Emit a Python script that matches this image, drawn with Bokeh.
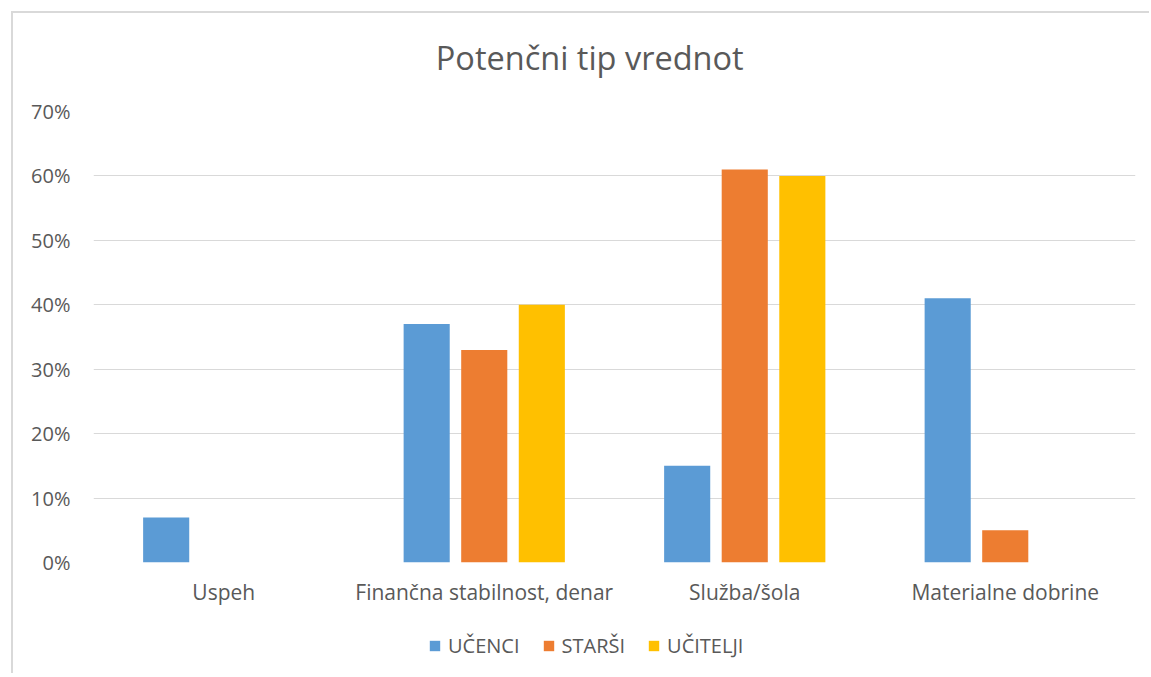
from bokeh.plotting import figure
from bokeh.layouts import column
from bokeh.models import (ColumnDataSource, FactorRange, Range1d, FixedTicker,
                          NumeralTickFormatter, Legend, LegendItem, Label)
from bokeh.transform import dodge
from bokeh.embed import file_html
from bokeh.resources import INLINE

title_text = "Potenčni tip vrednot"
categories = ["Uspeh", "Finančna stabilnost, denar", "Služba/šola", "Materialne dobrine"]
series_names = ["UČENCI", "STARŠI", "UČITELJI"]
ucenci = [7, 37, 15, 41]
starsi = [0, 33, 61, 5]
ucitelji = [0, 40, 60, 0]
y_ticks = [0, 10, 20, 30, 40, 50, 60, 70]

colors = ["#5B9BD5", "#ED7D31", "#FFC000"]
FONT = "Open Sans"
TXT = "#595959"
W = 1136


def blank(fig):
    fig.outline_line_color = None
    fig.axis.visible = False
    fig.grid.visible = False
    fig.background_fill_color = "white"
    fig.border_fill_color = "white"


# header strip holding the chart title
hd = figure(width=W, height=80, output_backend="svg", toolbar_location=None,
            min_border=0, min_border_left=0, min_border_right=0,
            min_border_top=0, min_border_bottom=0,
            x_range=Range1d(0, W), y_range=Range1d(0, 80))
blank(hd)
hd.add_layout(Label(x=541, y=36, text=title_text, text_align="center",
                    text_baseline="middle", text_font=FONT,
                    text_font_size="32.5px", text_color=TXT))

src = ColumnDataSource(dict(
    cat=categories,
    s0=[v / 100 for v in ucenci],
    s1=[v / 100 for v in starsi],
    s2=[v / 100 for v in ucitelji],
))

p = figure(x_range=FactorRange(factors=categories), y_range=Range1d(0, 0.70),
           width=W, height=526, output_backend="svg", toolbar_location=None,
           min_border_left=80, min_border_right=14, min_border_top=18,
           min_border_bottom=57)
p.outline_line_color = None
p.background_fill_color = "white"
p.border_fill_color = "white"

offs = [-0.221, 0.0, 0.221]
keys = ["s0", "s1", "s2"]
for i, key in enumerate(keys):
    p.vbar(x=dodge("cat", offs[i], range=p.x_range), top=key, width=0.177,
           source=src, fill_color=colors[i], line_color=None)

p.yaxis.ticker = FixedTicker(ticks=[t / 100 for t in y_ticks])
p.yaxis.formatter = NumeralTickFormatter(format="0%")
for ax in (p.xaxis[0], p.yaxis[0]):
    ax.axis_line_color = None
    ax.major_tick_line_color = None
    ax.minor_tick_line_color = None
    ax.major_label_text_font = FONT
    ax.major_label_text_font_size = "20px"
    ax.major_label_text_color = TXT
p.xaxis.major_label_text_font_size = "21px"
p.yaxis.major_label_standoff = 17
p.xaxis.major_label_standoff = 9
p.xgrid.grid_line_color = None
p.ygrid.grid_line_color = "#D9D9D9"
p.ygrid.grid_line_width = 1

# legend strip below the chart (swatch renderers have zero height, off range)
lg = figure(width=W, height=54, output_backend="svg", toolbar_location=None,
            min_border_left=20, min_border_right=0, min_border_top=0,
            min_border_bottom=0, x_range=Range1d(0, 1), y_range=Range1d(0, 1))
blank(lg)
lg_src = ColumnDataSource(dict(x=[-10.0], top=[0.0]))
lg_rends = [lg.vbar(x="x", top="top", width=0.1, source=lg_src,
                    fill_color=colors[i], line_color=None) for i in range(3)]
legend = Legend(items=[LegendItem(label=series_names[i], renderers=[lg_rends[i]])
                       for i in range(3)],
                orientation="horizontal", location=(335, 14),
                label_text_font=FONT, label_text_font_size="20px",
                label_text_color=TXT, glyph_width=13, glyph_height=13,
                spacing=22, label_standoff=7, border_line_color=None,
                background_fill_alpha=0, margin=0, padding=0)
lg.add_layout(legend, "center")

layout = column(hd, p, lg, spacing=0)
layout.margin = (11, 0, 0, 11)
layout.styles = {"border-left": "2px solid #D9D9D9", "border-top": "2px solid #D9D9D9"}

open("out.html", "w").write(file_html(layout, INLINE))
